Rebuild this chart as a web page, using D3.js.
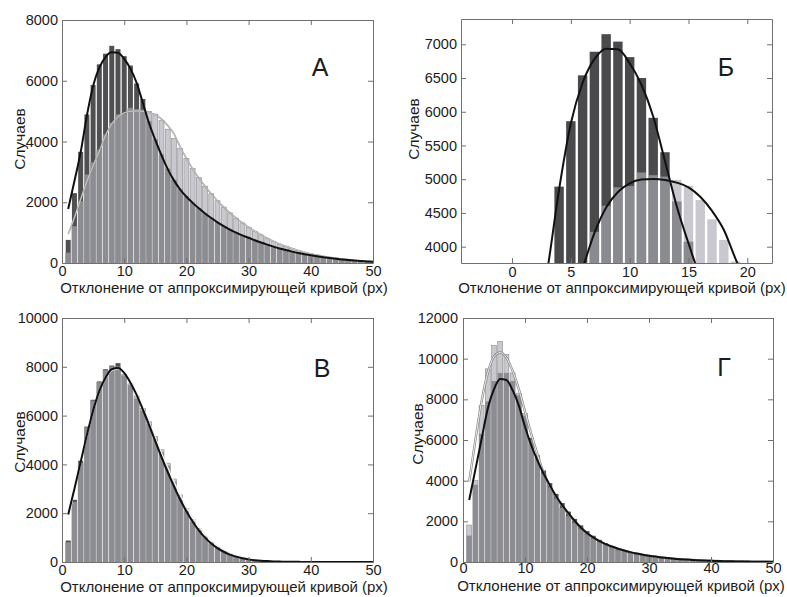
<!DOCTYPE html>
<html><head><meta charset="utf-8">
<script src="https://cdn.jsdelivr.net/npm/d3@7"></script>
<style>
body{margin:0;background:#fff}
svg{display:block}
text{font-family:"Liberation Sans",Arial,sans-serif;fill:#1c1c1c}
</style>
</head><body>
<svg id="c" width="787" height="597"></svg>
<script>
// ---------- DATA ----------
const bins = [1,2,3,4,5,6,7,8,9,10,11,12,13,14,15,16,17,18,19,20,21,22,23,24,25,26,27,28,29,30,31,32,33,34,35,36,37,38,39,40,41,42,43,44,45,46,47,48,49,50];

// Panel А (and its zoom Б)
const aDark = [760,2300,3660,4890,5860,6540,6890,7150,7040,6810,6500,5910,5400,4670,4074,3580,3110,2740,2440,2200,1990,1810,1640,1490,1350,1220,1105,1005,915,835,752,678,608,545,485,430,380,335,294,256,222,192,165,141,119,99,82,67,54,43];
const aLight = [330,1200,2020,2900,3300,3720,4220,4608,4880,4900,5100,5060,5040,4990,4900,4692,4406,4100,3780,3440,3110,2810,2530,2280,2050,1840,1650,1480,1320,1180,1045,925,815,715,620,540,470,405,350,300,258,222,190,163,140,118,98,80,62,45];
const aDarkFit = [1780,2700,3650,4850,5830,6430,6780,6935,6925,6720,6400,5930,5270,4600,4050,3540,3090,2720,2420,2180,1980,1800,1630,1480,1340,1215,1100,1000,910,830,750,675,605,540,480,425,375,330,290,253,220,190,163,139,117,97,80,65,52,41];
const aLightFit = [950,1500,2100,2680,3200,3680,4200,4580,4810,4940,4995,5005,4990,4950,4880,4740,4530,4250,3820,3440,3100,2800,2530,2280,2050,1840,1650,1480,1320,1180,1050,930,820,720,630,550,478,414,357,307,263,224,190,160,134,111,91,74,59,47];

// Panel В
const vDark = [880,2550,4150,5550,6650,7400,7900,8050,8150,7650,7250,6700,6200,5650,5050,4500,3950,3300,2650,2100,1650,1300,1000,760,570,420,300,215,150,105,72,50,35,24,17,12,9,7,5,4,3,3,2,2,2,1,1,1,1,1];
const vLight = [800,2450,4050,5500,6600,7350,7850,8000,8000,7700,7300,6800,6300,5750,5150,4600,4050,3400,2750,2200,1750,1380,1060,800,600,440,315,225,158,110,76,53,37,26,18,13,9,7,5,4,3,3,2,2,2,1,1,1,1,1];
const vDarkFit = [1950,3000,4100,5200,6200,7000,7550,7900,7950,7750,7350,6850,6250,5620,4950,4300,3680,3100,2560,2080,1660,1300,1000,760,570,420,305,220,155,108,75,52,36,25,17,12,8,6,4,3,2,2,1,1,1,1,0,0,0,0];
const vLightFit = [1750,2900,4050,5150,6150,6950,7500,7850,7920,7760,7400,6920,6350,5750,5100,4470,3880,3300,2760,2270,1840,1470,1160,900,690,520,385,280,200,142,100,70,48,33,23,16,11,8,6,4,3,2,2,1,1,1,1,0,0,0];

// Panel Г
const gDark = [1300,3800,6300,7900,8900,9300,9300,8900,8200,7200,6100,5250,4500,3880,3350,2900,2480,2120,1800,1520,1290,1090,930,790,670,570,485,412,350,298,253,215,183,155,132,112,95,80,68,57,48,40,34,28,23,19,16,13,10,8];
const gLight = [1820,4000,7700,9500,10650,10850,10200,9300,8300,7300,6000,5100,4300,3650,3100,2650,2250,1900,1600,1340,1130,950,800,675,570,480,405,342,290,245,207,175,148,125,106,90,76,64,54,45,38,32,27,22,18,15,12,10,8,6];
const gDarkFit = [3050,4550,6050,7550,8500,9000,8950,8450,7700,6650,5750,5000,4350,3780,3250,2800,2400,2030,1700,1430,1210,1030,880,760,655,565,485,418,360,310,265,226,193,164,139,118,100,84,71,60,50,42,35,29,24,20,16,13,10,8];
const gLightFit = [3950,6000,7900,9300,10100,10300,10050,9400,8500,7400,6300,5300,4380,3720,3200,2760,2360,2000,1675,1405,1190,1012,864,745,642,553,475,409,352,303,259,221,189,160,136,115,97,82,69,58,48,40,33,27,22,18,15,12,9,7];

// Ticks and labels
const xTicks50 = [0,10,20,30,40,50];
const xTicksZoom = [0,5,10,15,20];
const yTicksA = [0,2000,4000,6000,8000];
const yTicksB = [4000,4500,5000,5500,6000,6500,7000];
const yTicksV = [0,2000,4000,6000,8000,10000];
const yTicksG = [0,2000,4000,6000,8000,10000,12000];
const letters = ["А","Б","В","Г"];
const xTitle = "Отклонение от аппроксимирующей кривой (px)";
const yTitle = "Случаев";

// ---------- LAYOUT ----------
const panels = [
  {letter:letters[0], left:62, top:20, w:311, h:243, xd:[0,50], yd:[0,8000], xt:xTicks50, yt:yTicksA,
   dark:aDark, light:aLight, darkFit:aDarkFit, lightFit:aLightFit, lfStyle:"soft", darkCol:"#505052",
   xpad:3, ypad:4, titleX:224, titleY:293, yTitleX:25, yTitleY:139, letterX:320, letterY:76},
  {letter:letters[1], left:461, top:19, w:311, h:244, xd:[-4.34,22.1], yd:[3758,7375], xt:xTicksZoom, yt:yTicksB,
   dark:aDark, light:aLight, darkFit:aDarkFit, lightFit:aLightFit, lfStyle:"black", darkCol:"#4a4a4c",
   xpad:4, ypad:4, titleX:622, titleY:293, yTitleX:419, yTitleY:129, letterX:726, letterY:76},
  {letter:letters[2], left:62, top:318, w:311, h:244, xd:[0,50], yd:[0,10000], xt:xTicks50, yt:yTicksV,
   dark:vDark, light:vLight, darkFit:vDarkFit, lightFit:vLightFit, lfStyle:"white", darkCol:"#505052",
   xpad:3, ypad:4, titleX:224, titleY:592, yTitleX:25, yTitleY:442, letterX:322, letterY:377},
  {letter:letters[3], left:463, top:318, w:310, h:244, xd:[0,50], yd:[0,12000], xt:xTicks50, yt:yTicksG,
   dark:gDark, light:gLight, darkFit:gDarkFit, lightFit:gLightFit, lfStyle:"outlined", darkCol:"#505052",
   xpad:1, ypad:5, titleX:621, titleY:591, yTitleX:423, yTitleY:434, letterX:724, letterY:376}
];

const svg = d3.select("#c");
const defs = svg.append("defs");

panels.forEach((p, pi) => {
  const x = d3.scaleLinear().domain(p.xd).range([0, p.w]);
  const y = d3.scaleLinear().domain(p.yd).range([p.h, 0]);
  const g = svg.append("g").attr("transform", `translate(${p.left},${p.top})`);
  const cid = "clip" + pi;
  defs.append("clipPath").attr("id", cid).append("rect").attr("width", p.w).attr("height", p.h);
  const plot = g.append("g").attr("clip-path", `url(#${cid})`);
  const bw = x(0.8) - x(0);
  const base = y(p.yd[0]);

  // dark bars
  plot.append("g").selectAll("rect").data(bins.map((b, i) => ({b, v: p.dark[i]})))
    .join("rect")
    .attr("x", d => x(d.b) - bw / 2).attr("width", bw)
    .attr("y", d => Math.min(y(d.v), base)).attr("height", d => Math.max(0, base - y(d.v)))
    .attr("fill", p.darkCol);
  // light bars (semi-transparent)
  plot.append("g").selectAll("rect").data(bins.map((b, i) => ({b, v: p.light[i]})))
    .join("rect")
    .attr("x", d => x(d.b) - bw / 2).attr("width", bw)
    .attr("y", d => Math.min(y(d.v), base)).attr("height", d => Math.max(0, base - y(d.v)))
    .attr("fill", "rgb(172,172,180)").attr("fill-opacity", 0.66)
    .attr("stroke", p.lfStyle === "black" ? "none" : "#8f8f8f").attr("stroke-width", 0.6);

  const line = d3.line().x((d, i) => x(bins[i])).y(d => y(d)).curve(d3.curveMonotoneX);
  const lf = line(p.lightFit);
  if (p.lfStyle === "black") {
    plot.append("path").attr("d", lf).attr("fill", "none").attr("stroke", "#111").attr("stroke-width", 2);
  } else if (p.lfStyle === "soft") {
    plot.append("path").attr("d", lf).attr("fill", "none").attr("stroke", "#9a9a9a").attr("stroke-width", 1.6);
    plot.append("path").attr("d", lf).attr("fill", "none").attr("stroke", "#d8d8d8").attr("stroke-width", 0.7);
  } else if (p.lfStyle === "white") {
    plot.append("path").attr("d", lf).attr("fill", "none").attr("stroke", "#f2f2f2").attr("stroke-width", 1.3);
  } else {
    plot.append("path").attr("d", lf).attr("fill", "none").attr("stroke", "#8a8a8a").attr("stroke-width", 2.4);
    plot.append("path").attr("d", lf).attr("fill", "none").attr("stroke", "#eeeeee").attr("stroke-width", 1);
  }
  plot.append("path").attr("d", line(p.darkFit)).attr("fill", "none").attr("stroke", "#111").attr("stroke-width", 2);

  // axes (inward ticks on all sides)
  const styleAxis = sel => {
    sel.select(".domain").attr("stroke", "#707070");
    sel.selectAll(".tick line").attr("stroke", "#707070");
    sel.selectAll("text").attr("font-size", 14.5).attr("fill", "#1c1c1c")
      .attr("font-family", '"Liberation Sans",Arial,sans-serif');
  };
  g.append("g").attr("transform", `translate(0,${p.h})`)
    .call(d3.axisBottom(x).tickValues(p.xt).tickSize(-5).tickSizeOuter(0).tickPadding(p.xpad))
    .call(styleAxis);
  g.append("g")
    .call(d3.axisTop(x).tickValues(p.xt).tickSize(-5).tickSizeOuter(0).tickFormat(""))
    .call(styleAxis);
  g.append("g")
    .call(d3.axisLeft(y).tickValues(p.yt).tickSize(-5).tickSizeOuter(0).tickPadding(p.ypad).tickFormat(d3.format("d")))
    .call(styleAxis);
  g.append("g").attr("transform", `translate(${p.w},0)`)
    .call(d3.axisRight(y).tickValues(p.yt).tickSize(-5).tickSizeOuter(0).tickFormat(""))
    .call(styleAxis);

  // titles
  svg.append("text").attr("x", p.titleX).attr("y", p.titleY)
    .attr("text-anchor", "middle").attr("font-size", 15).text(xTitle);
  svg.append("text").attr("transform", `translate(${p.yTitleX},${p.yTitleY}) rotate(-90)`)
    .attr("text-anchor", "middle").attr("font-size", 15.5).text(yTitle);
  svg.append("text").attr("x", p.letterX).attr("y", p.letterY)
    .attr("text-anchor", "middle").attr("font-size", 25).text(p.letter);
});
</script>
</body></html>
